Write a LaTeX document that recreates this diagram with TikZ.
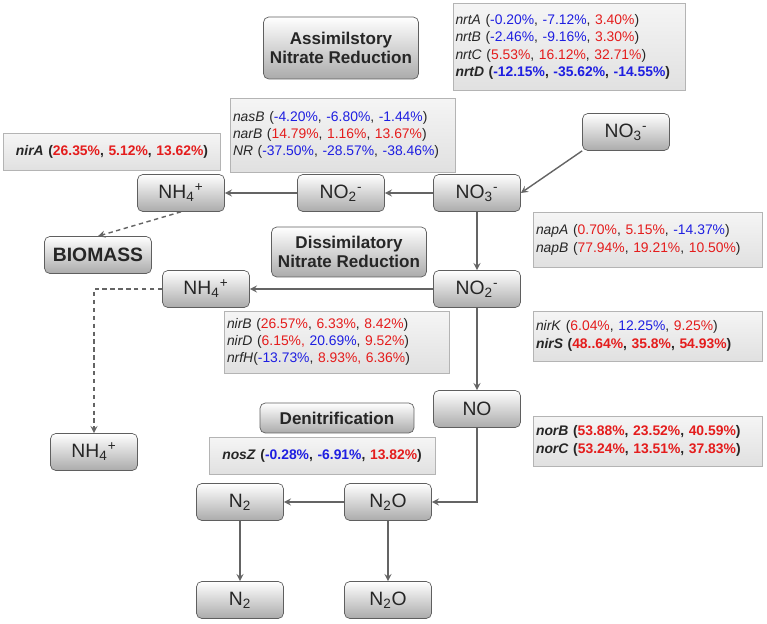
\documentclass[tikz,border=0pt]{standalone}
\usepackage{fontspec}
\setmainfont{Liberation Sans}
\usetikzlibrary{arrows}

\definecolor{genblue}{RGB}{30, 30, 225}
\definecolor{genred}{RGB}{228, 28, 28}
\definecolor{boxline}{RGB}{95, 95, 95}
\definecolor{geneline}{RGB}{180, 180, 180}
\definecolor{arrgray}{RGB}{100, 100, 100}

\newcommand{\up}[1]{\textcolor{genred}{#1}}
\newcommand{\dn}[1]{\textcolor{genblue}{#1}}

\begin{document}
\begin{tikzpicture}[x=0.02cm, y=-0.02cm, >=stealth,
        box/.style={draw=boxline, rounded corners=3pt, top color=white, bottom color=black!33,
            text=black!85, inner sep=0pt, minimum width=1.74cm, minimum height=0.74cm,
            font=\fontsize{11}{13}\selectfont},
        title/.style={box, align=center, font=\fontsize{9.7}{10.8}\selectfont\bfseries},
        gene/.style={draw=geneline, top color=white!96!black, bottom color=black!12,
            text=black!85, inner xsep=0.05cm, inner ysep=0pt, align=left,
            font=\fontsize{7.9}{9.9}\selectfont},
        flow/.style={->, draw=arrgray, line width=0.8pt},
        link/.style={flow, dash pattern=on 2.5pt off 2pt}]

    \useasboundingbox (0,0) rectangle (767,624);

    % --- tytuly szlakow ---
    \node[title, minimum width=3.1cm, minimum height=1.24cm] (tA) at (341,48) {Assimilstory\\Nitrate Reduction};
    \node[title, minimum width=3.1cm, minimum height=1.0cm]  (tD) at (349,252) {Dissimilatory\\Nitrate Reduction};
    \node[title, minimum width=3.08cm, minimum height=0.6cm] (tN) at (337,418) {Denitrification};

    % --- zwiazki azotu ---
    \node[box] (no3a) at (626,132) {NO\textsubscript{3}\textsuperscript{-}};
    \node[box] (no3b) at (477,193) {NO\textsubscript{3}\textsuperscript{-}};
    \node[box] (no2a) at (341,193) {NO\textsubscript{2}\textsuperscript{-}};
    \node[box] (nh4a) at (181,193) {NH\textsubscript{4}\textsuperscript{+}};
    \node[box, minimum width=2.14cm, font=\fontsize{11}{13}\selectfont\bfseries] (bio) at (98,255) {BIOMASS};
    \node[box] (no2b) at (477,289) {NO\textsubscript{2}\textsuperscript{-}};
    \node[box] (nh4b) at (206,289) {NH\textsubscript{4}\textsuperscript{+}};
    \node[box] (nh4c) at (94,452)  {NH\textsubscript{4}\textsuperscript{+}};
    \node[box] (no)   at (477,409) {NO};
    \node[box] (n2oa) at (388,502) {N\textsubscript{2}O};
    \node[box] (n2a)  at (240,502) {N\textsubscript{2}};
    \node[box] (n2ob) at (388,600) {N\textsubscript{2}O};
    \node[box] (n2b)  at (240,600) {N\textsubscript{2}};

    % --- geny ---
    \node[gene, text width=4.54cm, minimum height=1.74cm] (gNrt) at (569,47) {%
        \textit{nrtA} (\dn{-0.20\%}, \dn{-7.12\%}, \up{3.40\%})\\
        \textit{nrtB} (\dn{-2.46\%}, \dn{-9.16\%}, \up{3.30\%})\\
        \textit{nrtC} (\up{5.53\%}, \up{16.12\%}, \up{32.71\%})\\
        \textbf{\textit{nrtD} (\dn{-12.15\%}, \dn{-35.62\%}, \dn{-14.55\%})}};
    \node[gene, text width=4.40cm, minimum height=1.48cm] (gNas) at (343,135) {%
        \textit{nasB} (\dn{-4.20\%}, \dn{-6.80\%}, \dn{-1.44\%})\\
        \textit{narB} (\up{14.79\%}, \up{1.16\%}, \up{13.67\%})\\
        \textit{NR} (\dn{-37.50\%}, \dn{-28.57\%}, \dn{-38.46\%})};
    \node[gene, text width=4.24cm, minimum height=0.74cm, align=center] (gNira) at (112,152) {%
        \textbf{\textit{nirA} (\up{26.35\%}, \up{5.12\%}, \up{13.62\%})}};
    \node[gene, text width=4.48cm, minimum height=1.10cm] (gNap) at (648,240) {%
        \textit{napA} (\up{0.70\%}, \up{5.15\%}, \dn{-14.37\%})\\
        \textit{napB} (\up{77.94\%}, \up{19.21\%}, \up{10.50\%})};
    \node[gene, text width=4.40cm, minimum height=1.24cm] (gNirb) at (337,342) {%
        \textit{nirB} (\up{26.57\%}, \up{6.33\%}, \up{8.42\%})\\
        \textit{nirD} (\up{6.15\%,} \dn{20.69\%}, \up{9.52\%})\\
        \textit{nrfH}(\dn{-13.73\%}, \up{8.93\%, 6.36\%})};
    \node[gene, text width=4.48cm, minimum height=1.0cm] (gNirk) at (648,336) {%
        \textit{nirK} (\up{6.04\%}, \dn{12.25\%}, \up{9.25\%})\\
        \textbf{\textit{nirS} (\up{48..64\%}, \up{35.8\%}, \up{54.93\%})}};
    \node[gene, text width=4.48cm, minimum height=1.0cm] (gNor) at (648,441) {%
        \textbf{\textit{norB} (\up{53.88\%}, \up{23.52\%}, \up{40.59\%})}\\
        \textbf{\textit{norC} (\up{53.24\%}, \up{13.51\%}, \up{37.83\%})}};
    \node[gene, text width=4.42cm, minimum height=0.74cm, align=center] (gNos) at (322,456) {%
        \textbf{\textit{nosZ} (\dn{-0.28\%}, \dn{-6.91\%}, \up{13.82\%})}};

    % --- asymilacja ---
    \draw[flow] (no3a.south west) -- (no3b.east);
    \draw[flow] (no3b) -- (no2a);
    \draw[flow] (no2a) -- (nh4a);
    \draw[link] (nh4a.south) -- (bio.north);

    % --- dysymilacja ---
    \draw[flow] (no3b) -- (no2b);
    \draw[flow] (no2b) -- (nh4b);
    \draw[link] (nh4b.west) -| (nh4c.north);

    % --- denitryfikacja ---
    \draw[flow] (no2b) -- (no);
    \draw[flow] (no.south) |- (n2oa.east);
    \draw[flow] (n2oa) -- (n2a);
    \draw[flow] (n2a) -- (n2b);
    \draw[flow] (n2oa) -- (n2ob);

\end{tikzpicture}
\end{document}
